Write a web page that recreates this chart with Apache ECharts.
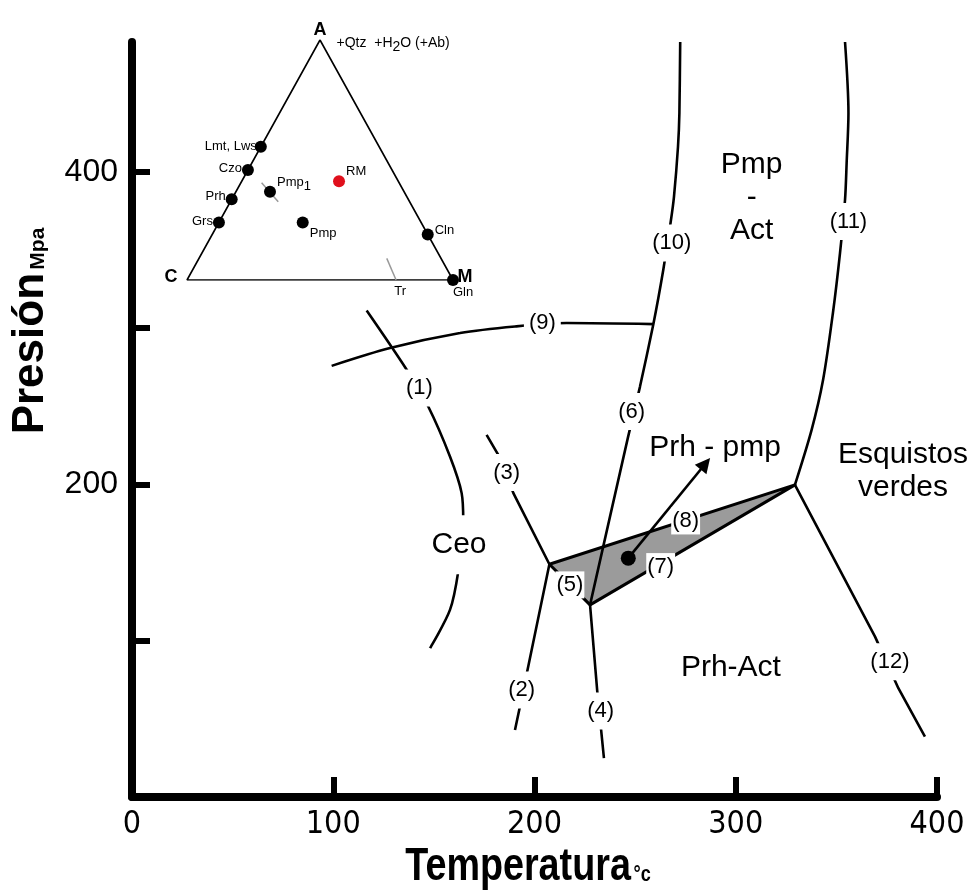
<!DOCTYPE html>
<html>
<head>
<meta charset="utf-8">
<script src="https://cdn.jsdelivr.net/npm/echarts@6/dist/echarts.min.js"></script>
<style>
html,body{margin:0;padding:0;background:#fff}
#chart{width:980px;height:892px}
</style>
</head>
<body>
<div id="chart"></div>
<script>
// axes
var tempTicks = [100, 200, 300, 400];
var tempLabels = [0, 100, 200, 300, 400];
var presTicks = [100, 200, 300, 400];
var presLabels = [200, 400];

// reaction curves, [T (°C), P (MPa)]
var curve1 = [[116.6,311.2],[136.5,273.3],[147.2,249.8],[158.0,217.8],[163.8,194.4],[164.6,176.2],[162.1,144.2],[158.0,119.7],[148.1,95.2]];
var curve2 = [[207.4,148.9],[196.6,81.7],[192.4,55.7],[190.3,42.9]];
var curve3 = [[176.2,231.7],[182.0,218.9],[189.5,194.4],[207.4,148.9]];
var curve4 = [[227.6,122.9],[231.2,67.4],[234.5,24.8]];
var curve6_10 = [[227.6,122.9],[246.5,230.4],[252.4,262.4],[259.0,302.1],[264.0,337.3],[267.7,368.2],[269.3,384.0],[271.3,416.0],[272.0,437.8],[272.4,483]];
var curve9 = [[99.2,275.8],[128.2,287.2],[163.0,296.8],[190.3,301.0],[216.0,303.2],[259.0,302.5]];
var curve11 = [[354.3,483],[356.0,437.6],[355.1,405.6],[354.3,382.1],[351.8,348.0],[348.3,309.8],[343.4,266.9],[337.7,234.9],[329.4,199.7]];
var curve12 = [[329.4,199.7],[369.2,102.6],[380.8,69.6],[394.0,38.6]];

// shaded field between (5), (7) and (8)
var field = [[207.4,148.9],[227.6,122.9],[329.4,199.7]];
var sample = [246.6, 152.8];
var sampleTrend = [284.9, 213.2];

// labels on the diagram
var curveLabels = [['(1)',142.8,261.6],['(2)',193.6,68.5],['(3)',186.2,207.6],['(4)',232.9,55.0],
    ['(6)',248.3,246.6],['(9)',203.9,303.2],['(10)',268.2,354.4],['(11)',356.0,368.2],['(12)',376.6,86.6]];
var fieldLabels = [['(5)',217.6,135.7],['(7)',262.7,147.4],['(8)',275.1,176.6]];
var regionLabels = [['Pmp\n-\nAct',307.9,383.2],['Prh - pmp',289.7,223.4],['Esquistos\nverdes',383.1,208.3],['Prh-Act',297.6,82.6]];
var maskedRegionLabels = [['Ceo',162.5,161.3]];

// ACM ternary inset: name, A, C, M
var minerals = [
    ['Lmt, Lws', 0.555, 0.445, 0],
    ['Czo', 0.458, 0.542, 0],
    ['Prh', 0.336, 0.664, 0],
    ['Grs', 0.24, 0.76, 0],
    ['Pmp1', 0.368, 0.504, 0.128],
    ['Pmp', 0.24, 0.445, 0.315],
    ['Cln', 0.19, 0, 0.81],
    ['Gln', 0, 0, 1]
];
var rockSample = ['RM', 0.411, 0.223, 0.366];
var corners = [['A', 1, 0, 0], ['C', 0, 1, 0], ['M', 0, 0, 1]];
var trMark = [[0, 0.214, 0.786], [0.09, 0.204, 0.706]];
var pmp1Mark = [[0.405, 0.517, 0.078], [0.326, 0.494, 0.18]];

var sans = "'Liberation Sans', Arial, sans-serif";
var narrow = "'Liberation Sans Narrow', 'Arial Narrow', 'DejaVu Sans Condensed', sans-serif";

function tern(a, c, m) {
    return [m + a / 2, a];
}

var mineralLabel = {
    'Lmt, Lws': {position: 'left', distance: -2, offset: [0, 0]},
    'Czo': {position: 'left', distance: 0, offset: [0, -2]},
    'Prh': {position: 'left', distance: 0, offset: [0, -3]},
    'Grs': {position: 'left', distance: 0, offset: [0, -1]},
    'Pmp1': {position: 'right', distance: 1, offset: [0, -9]},
    'Pmp': {position: 'right', distance: 1, offset: [0, 11]},
    'Cln': {position: 'right', distance: 1, offset: [0, -4]},
    'Gln': {position: 'bottom', distance: 1, offset: [10, -1]}
};

function curveSeries(data, smooth) {
    return {
        type: 'line', xAxisIndex: 0, yAxisIndex: 0,
        data: data, smooth: smooth, showSymbol: false, symbol: 'none', silent: true, z: 3,
        lineStyle: {color: '#000', width: 2.6}
    };
}

function labelSeries(list, fontSize, extra, z) {
    var lab = {
        show: true, position: 'inside', formatter: '{b}',
        color: '#000', fontSize: fontSize, fontFamily: sans, lineHeight: fontSize + 5
    };
    for (var k in extra) lab[k] = extra[k];
    return {
        type: 'scatter', xAxisIndex: 0, yAxisIndex: 0, silent: true, z: z,
        symbolSize: 1, itemStyle: {color: 'rgba(0,0,0,0)', opacity: 1},
        label: lab,
        data: list.map(function (d) { return {name: d[0], value: [d[1], d[2]]}; })
    };
}

var dom = document.getElementById('chart');
var myChart = echarts.init(dom, null, {renderer: 'canvas'});

var subRich = {s: {fontSize: 13, fontFamily: sans, color: '#000', verticalAlign: 'bottom', padding: [8, 0, 0, 0]}};

var series = [
    {
        type: 'custom', xAxisIndex: 0, yAxisIndex: 0, silent: true, z: 2,
        data: field,
        renderItem: function (params, api) {
            if (params.dataIndex !== 0) return;
            return {
                type: 'polygon',
                shape: {points: field.map(function (p) { return api.coord(p); })},
                style: {fill: '#9b9b9b', stroke: '#000', lineWidth: 3, lineJoin: 'round'}
            };
        }
    },
    curveSeries(curve1, 0.3),
    curveSeries(curve2, false),
    curveSeries(curve3, false),
    curveSeries(curve4, false),
    curveSeries(curve6_10, 0.2),
    curveSeries(curve9, 0.3),
    curveSeries(curve11, 0.3),
    curveSeries(curve12, false),
    {
        type: 'scatter', xAxisIndex: 0, yAxisIndex: 0, silent: true, z: 6,
        symbolSize: 15, itemStyle: {color: '#000', opacity: 1},
        data: [sample],
        markLine: {
            silent: true, symbol: ['none', 'triangle'], symbolSize: 15,
            label: {show: false},
            lineStyle: {color: '#000', width: 2.6, type: 'solid', opacity: 1},
            data: [[{coord: sample}, {coord: sampleTrend}]]
        }
    },
    labelSeries(curveLabels, 22, {backgroundColor: '#fff', padding: [5, 5]}, 10),
    labelSeries(fieldLabels, 22, {backgroundColor: '#fff', padding: [0, 1]}, 10),
    labelSeries(regionLabels, 30, {lineHeight: 33}, 10),
    labelSeries(maskedRegionLabels, 30, {backgroundColor: '#fff', padding: [12, 2]}, 10),

    // ternary inset
    {
        type: 'line', xAxisIndex: 1, yAxisIndex: 1, silent: true, z: 4,
        data: [corners[2], corners[0], corners[1], corners[2]].map(function (d) { return tern(d[1], d[2], d[3]); }),
        showSymbol: false, symbol: 'none', lineStyle: {color: '#000', width: 1.6}
    },
    {
        type: 'line', xAxisIndex: 1, yAxisIndex: 1, silent: true, z: 4,
        data: trMark.map(function (d) { return tern(d[0], d[1], d[2]); }),
        showSymbol: false, symbol: 'none', lineStyle: {color: '#999', width: 1.5}
    },
    {
        type: 'line', xAxisIndex: 1, yAxisIndex: 1, silent: true, z: 4,
        data: pmp1Mark.map(function (d) { return tern(d[0], d[1], d[2]); }),
        showSymbol: false, symbol: 'none', lineStyle: {color: '#999', width: 1.5}
    },
    {
        type: 'scatter', xAxisIndex: 1, yAxisIndex: 1, silent: true, z: 5,
        symbolSize: 12, itemStyle: {color: '#000', opacity: 1},
        data: minerals.map(function (d) {
            var s = mineralLabel[d[0]];
            return {
                name: d[0], value: tern(d[1], d[2], d[3]),
                label: {position: s.position, distance: s.distance, offset: s.offset}
            };
        }),
        label: {
            show: true, color: '#000', fontSize: 13, fontFamily: sans,
            formatter: function (p) { return p.name === 'Pmp1' ? 'Pmp{s|1}' : p.name; },
            rich: subRich
        }
    },
    {
        type: 'scatter', xAxisIndex: 1, yAxisIndex: 1, silent: true, z: 5,
        symbolSize: 12, itemStyle: {color: '#e0101c', opacity: 1},
        data: [{name: rockSample[0], value: tern(rockSample[1], rockSample[2], rockSample[3])}],
        label: {show: true, position: 'right', distance: 1, offset: [0, -10], formatter: '{b}',
            color: '#000', fontSize: 13, fontFamily: sans}
    },
    {
        type: 'scatter', xAxisIndex: 1, yAxisIndex: 1, silent: true, z: 5,
        symbolSize: 1, itemStyle: {color: 'rgba(0,0,0,0)', opacity: 1},
        label: {show: true, formatter: '{b}', color: '#000', fontSize: 18, fontWeight: 'bold', fontFamily: sans},
        data: [
            {name: 'A', value: tern(1, 0, 0), label: {position: 'top', distance: 0}},
            {name: 'C', value: tern(0, 1, 0), label: {position: 'left', distance: 9, offset: [0, -3]}},
            {name: 'M', value: tern(0, 0, 1), label: {position: 'right', distance: 4, offset: [0, -3]}}
        ]
    },
    {
        type: 'scatter', xAxisIndex: 1, yAxisIndex: 1, silent: true, z: 5,
        symbolSize: 1, itemStyle: {color: 'rgba(0,0,0,0)', opacity: 1},
        label: {show: true, formatter: '{b}', color: '#000', fontSize: 13, fontFamily: sans},
        data: [
            {name: '+Qtz  +H{s|2}O (+Ab)', value: tern(1, 0, 0), label: {position: 'right', distance: 16, offset: [0, 3],
                fontSize: 14, rich: {s: {fontSize: 14, fontFamily: sans, color: '#000', verticalAlign: 'bottom', padding: [9, 0, 0, 0]}}}},
            {name: 'Tr', value: tern(trMark[0][0], trMark[0][1], trMark[0][2]), label: {position: 'bottom', distance: 4, offset: [4, 0]}}
        ]
    }
];

var option = {
    animation: false,
    backgroundColor: '#fff',
    grid: [
        {left: 132, right: 43, top: 42, bottom: 95},
        {left: 187, top: 40, width: 266, height: 240}
    ],
    xAxis: [
        {
            type: 'value', gridIndex: 0, min: 0, max: 400, interval: 100,
            splitLine: {show: false},
            axisLine: {show: true, lineStyle: {color: '#000', width: 8}},
            axisTick: {show: true, inside: true, length: 20, customValues: tempTicks, lineStyle: {color: '#000', width: 6}},
            axisLabel: {customValues: tempLabels, color: '#000', fontSize: 32, fontFamily: narrow, margin: 12}
        },
        {type: 'value', gridIndex: 1, min: 0, max: 1, show: false}
    ],
    yAxis: [
        {
            type: 'value', gridIndex: 0, min: 0, max: 483, interval: 100,
            splitLine: {show: false},
            axisLine: {show: true, lineStyle: {color: '#000', width: 8}},
            axisTick: {show: true, inside: true, length: 18, customValues: presTicks, lineStyle: {color: '#000', width: 6}},
            axisLabel: {customValues: presLabels, color: '#000', fontSize: 32, fontFamily: sans, margin: 14}
        },
        {type: 'value', gridIndex: 1, min: 0, max: 1, show: false}
    ],
    graphic: [
        {
            type: 'text', x: 30, y: 331, rotation: Math.PI / 2, z: 20,
            style: {
                text: '{a|Presión} {b|Mpa}', align: 'center', verticalAlign: 'middle',
                rich: {
                    a: {fontSize: 44, fontWeight: 'bold', fontFamily: sans, fill: '#000', lineHeight: 46, verticalAlign: 'bottom'},
                    b: {fontSize: 21, fontWeight: 'bold', fontFamily: sans, fill: '#000', verticalAlign: 'bottom', padding: [0, 0, 4, 0]}
                }
            }
        },
        {
            type: 'text', x: 528, y: 866, scaleX: 0.82, z: 20,
            style: {
                text: '{a|Temperatura} {b|°c}', align: 'center', verticalAlign: 'middle',
                rich: {
                    a: {fontSize: 46, fontWeight: 'bold', fontFamily: sans, fill: '#000', lineHeight: 48, verticalAlign: 'bottom'},
                    b: {fontSize: 22, fontWeight: 'bold', fontFamily: sans, fill: '#000', verticalAlign: 'bottom', padding: [0, 0, 4, 0]}
                }
            }
        }
    ],
    series: series
};
myChart.setOption(option, true);
</script>
</body>
</html>
